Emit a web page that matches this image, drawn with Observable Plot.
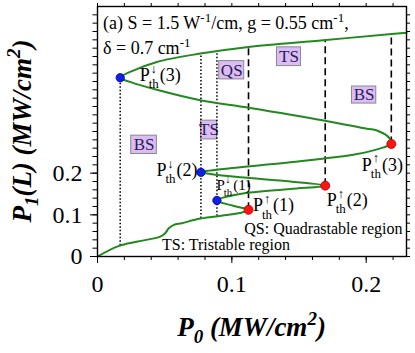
<!DOCTYPE html>
<html><head><meta charset="utf-8">
<script src="https://cdn.jsdelivr.net/npm/d3@7"></script>
<script src="https://cdn.jsdelivr.net/npm/@observablehq/plot@0.6"></script>
<style>html,body{margin:0;padding:0;background:#fff} svg{display:block}</style>
</head><body><div id="chart"></div>
<script>
// S-shaped multistable response curve P1(L) vs P0
const curveP0 = [0, 0.0156, 0.0300, 0.0467, 0.0504, 0.0529, 0.0566, 0.0628, 0.0765, 0.0975, 0.1075, 0.1124,
  0.1010, 0.0889,
  0.1063, 0.1435, 0.1695,
  0.1435, 0.1063, 0.0839, 0.0770,
  0.0938, 0.1435, 0.1932, 0.2130, 0.2187,
  0.2178, 0.2080, 0.2006, 0.1683, 0.1124, 0.0765, 0.0442, 0.0243, 0.0169,
  0.0243, 0.0442, 0.0765, 0.1124, 0.1680, 0.2190, 0.2300];
const curveP1 = [0, 0.025, 0.036, 0.0477, 0.056, 0.067, 0.0755, 0.080, 0.091, 0.100, 0.1055, 0.112,
  0.1217, 0.1345,
  0.150, 0.162, 0.170,
  0.180, 0.190, 0.198, 0.202,
  0.210, 0.226, 0.246, 0.262, 0.270,
  0.2824, 0.3024, 0.3065, 0.3265, 0.357, 0.375, 0.400, 0.419, 0.429,
  0.443, 0.467, 0.487, 0.503, 0.519, 0.534, 0.537];

// switch-up thresholds (red) and switch-down thresholds (blue)
const upP0 = [0.1124, 0.1695, 0.2187];
const upP1 = [0.112, 0.170, 0.270];
const upNames = ["1", "2", "3"];
const downP0 = [0.0889, 0.0770, 0.0169];
const downP1 = [0.1345, 0.202, 0.429];
const downNames = ["1", "2", "3"];

// dashed guide lines (from up-threshold to upper branch)
const dashedTop = [0.503, 0.519, 0.534];
// dotted guide lines (lower branch to upper branch / down-threshold)
const dottedX = [0.0169, 0.0770, 0.0889];
const dottedBottom = [0.026, 0.091, 0.0965];
const dottedTop = [0.429, 0.487, 0.492];

// region boxes
const boxText = ["BS", "TS", "QS", "TS", "BS"];
const boxX1 = [0.0251, 0.0770, 0.0906, 0.1336, 0.1894];
const boxX2 = [0.0442, 0.0889, 0.1092, 0.1515, 0.2075];
const boxY1 = [0.246, 0.281, 0.425, 0.457, 0.367];
const boxY2 = [0.290, 0.326, 0.469, 0.502, 0.408];

const xTicks = [0, 0.1, 0.2];
const yTicks = [0, 0.1, 0.2];
const xMinor = [0, 0.02, 0.04, 0.06, 0.08, 0.1, 0.12, 0.14, 0.16, 0.18, 0.2, 0.22];
const yMinor = [0, 0.02, 0.04, 0.06, 0.08, 0.1, 0.12, 0.14, 0.16, 0.18, 0.2, 0.22, 0.24, 0.26, 0.28,
  0.3, 0.32, 0.34, 0.36, 0.38, 0.4, 0.42, 0.44, 0.46, 0.48, 0.5, 0.52, 0.54, 0.56, 0.58];

const SERIF = "'Liberation Serif', 'Times New Roman', serif";
const curve = curveP0.map((x, i) => ({x, y: curveP1[i]}));
const ups = upP0.map((x, i) => ({x, y: upP1[i], top: dashedTop[i], n: upNames[i]}));
const downs = downP0.map((x, i) => ({x, y: downP1[i], n: downNames[i]}));
const dots = dottedX.map((x, i) => ({x, y1: dottedBottom[i], y2: dottedTop[i]}));
const boxes = boxText.map((t, i) => ({t, x1: boxX1[i], x2: boxX2[i], y1: boxY1[i], y2: boxY2[i]}));

const plot = Plot.plot({
  width: 415, height: 353,
  marginLeft: 97, marginRight: 9, marginTop: 6, marginBottom: 97,
  x: {domain: [0, 0.23]},
  y: {domain: [0, 0.6]},
  style: {fontFamily: SERIF, background: "white", color: "black", fontSize: "24px"},
  marks: [
    Plot.rect(boxes, {x1: "x1", x2: "x2", y1: "y1", y2: "y2", fill: "#dbbcf6", stroke: "#8a8a8a", strokeWidth: 1}),
    Plot.text(boxes, {x: d => (d.x1 + d.x2) / 2, y: d => (d.y1 + d.y2) / 2, text: "t", fontSize: 17, fill: "#2b1d4f", fontFamily: SERIF}),
    Plot.ruleX(dots, {x: "x", y1: "y1", y2: "y2", stroke: "black", strokeWidth: 1.5, strokeDasharray: "1.5,2"}),
    Plot.ruleX(ups, {x: "x", y1: "y", y2: "top", stroke: "black", strokeWidth: 1.6, strokeDasharray: "7,4"}),
    Plot.line(curve, {x: "x", y: "y", stroke: "#23891f", strokeWidth: 2, curve: "catmull-rom"}),
    Plot.dot(ups, {x: "x", y: "y", r: 4.5, fill: "#ff1212", stroke: "#b00000", strokeWidth: 0.8}),
    Plot.dot(downs, {x: "x", y: "y", r: 4.2, fill: "#1020e8", stroke: "#000090", strokeWidth: 0.8}),
    Plot.frame({stroke: "black", strokeWidth: 1.4}),
    Plot.axisX({ticks: xTicks, tickSize: 7, tickPadding: 11, tickFormat: d => d === 0 ? "0" : String(d), fontSize: 24, fontFamily: SERIF, label: null}),
    Plot.axisX({ticks: xMinor, tickSize: 4, tickFormat: () => "", label: null}),
    Plot.axisX({anchor: "top", ticks: xMinor, tickSize: 4, tickFormat: () => "", label: null}),
    Plot.axisY({ticks: yTicks, tickSize: 7, tickPadding: 8, tickFormat: d => d === 0 ? "0" : String(d), fontSize: 24, fontFamily: SERIF, label: null}),
    Plot.axisY({ticks: yMinor, tickSize: 4.5, tickFormat: () => "", label: null}),
    Plot.axisY({anchor: "right", ticks: yMinor, tickSize: 3, tickFormat: () => "", label: null}),
    Plot.text(["QS: Quadrastable region"], {frameAnchor: "bottom-right", dx: -4, dy: -22.5, textAnchor: "end", lineAnchor: "bottom", fontSize: 16, fontFamily: SERIF, fill: "black"}),
    Plot.text(["TS: Tristable region"], {frameAnchor: "bottom-left", dx: 64.5, dy: -6.5, textAnchor: "start", lineAnchor: "bottom", fontSize: 16, fontFamily: SERIF, fill: "black"})
  ]
});
document.getElementById("chart").append(plot);

const svg = d3.select(plot);
const sx = plot.scale("x"), sy = plot.scale("y");

// threshold labels P_th^{arrow}(n)
function pth(px, py, arrow, n, size) {
  const g = svg.append("g").attr("font-family", SERIF).attr("fill", "black").attr("text-anchor", "start");
  const P = g.append("text").attr("x", px).attr("y", py).attr("font-size", size).text("P");
  const pw = P.node().getComputedTextLength();
  const th = g.append("text").attr("x", px + pw - 1).attr("y", py + size * 0.4).attr("font-size", size * 0.72).text("th");
  const tw = th.node().getComputedTextLength();
  g.append("text").attr("x", px + pw - 1 + tw / 2).attr("y", py - size * 0.45).attr("font-size", size * 0.7)
    .attr("text-anchor", "middle").text(arrow);
  g.append("text").attr("x", px + pw + tw).attr("y", py).attr("font-size", size).text("(" + n + ")");
}
const upOff = [[5, 2], [2, 21], [-29, 27]];
ups.forEach((d, i) => pth(sx.apply(d.x) + upOff[i][0], sy.apply(d.y) + upOff[i][1], "↑", d.n, 18));
const downOff = [[0, -10], [-44, 4], [20, 4]];
const downSize = [15, 18, 18];
downs.forEach((d, i) => pth(sx.apply(d.x) + downOff[i][0], sy.apply(d.y) + downOff[i][1], "↓", d.n, downSize[i]));

// rich text helper
function rich(x, y, parts, attrs) {
  const t = svg.append("text").attr("x", x).attr("y", y).attr("font-family", SERIF).attr("fill", "black")
    .attr("text-anchor", "start");
  Object.entries(attrs || {}).forEach(([k, v]) => t.attr(k, v));
  parts.forEach(p => {
    const s = t.append("tspan").text(p.t);
    if (p.size) s.attr("font-size", p.size);
    if (p.dy) s.attr("dy", p.dy);
  });
  return t;
}
// parameter annotation
rich(103, 29, [
  {t: "(a) S = 1.5 W"}, {t: "-1", size: 13, dy: -7}, {t: "/cm, g = 0.55 cm", dy: 7}, {t: "-1", size: 13, dy: -7}, {t: ",", dy: 7}
], {"font-size": 18});
rich(103, 54, [
  {t: "δ = 0.7 cm"}, {t: "-1", size: 13, dy: -7}
], {"font-size": 18});

// axis titles
const cx = (sx.range[0] + sx.range[1]) / 2;
rich(cx, 336, [
  {t: "P"}, {t: "0", size: 19, dy: 7}, {t: " (MW/cm", dy: -7}, {t: "2", size: 19, dy: -11}, {t: ")", dy: 11}
], {"font-size": 27, "font-weight": "bold", "font-style": "italic", "text-anchor": "middle"});
const cy = (sy.range[0] + sy.range[1]) / 2;
rich(0, 0, [
  {t: "P"}, {t: "1", size: 19, dy: 7}, {t: "(L) (MW/cm", dy: -7}, {t: "2", size: 19, dy: -11}, {t: ")", dy: 11}
], {"font-size": 27, "font-weight": "bold", "font-style": "italic", "text-anchor": "middle",
    transform: `translate(31,${cy}) rotate(-90)`});
</script>
</body></html>
